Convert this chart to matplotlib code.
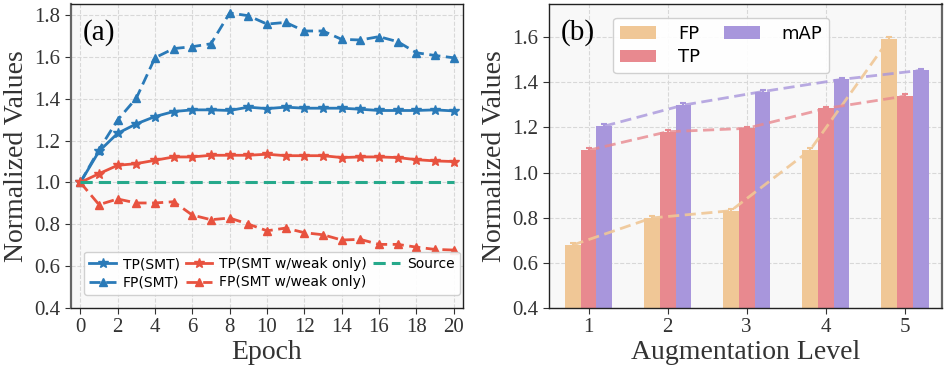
import matplotlib
matplotlib.use("Agg")
import matplotlib.pyplot as plt
import numpy as np

epochs = list(range(21))
tp_smt = [1.0, 1.149, 1.235, 1.28, 1.315, 1.339, 1.347, 1.347, 1.344, 1.36, 1.353,
          1.36, 1.355, 1.355, 1.355, 1.35, 1.344, 1.344, 1.344, 1.347, 1.342]
fp_smt = [1.0, 1.157, 1.299, 1.403, 1.596, 1.64, 1.649, 1.663, 1.81, 1.797, 1.757,
          1.765, 1.724, 1.724, 1.684, 1.681, 1.697, 1.673, 1.62, 1.607, 1.596]
tp_weak = [1.0, 1.042, 1.082, 1.09, 1.106, 1.122, 1.122, 1.13, 1.13, 1.13, 1.135,
           1.128, 1.128, 1.128, 1.119, 1.122, 1.122, 1.119, 1.109, 1.103, 1.1]
fp_weak = [1.0, 0.894, 0.921, 0.902, 0.902, 0.908, 0.844, 0.822, 0.83, 0.801, 0.769,
           0.782, 0.76, 0.75, 0.725, 0.728, 0.704, 0.704, 0.691, 0.68, 0.677]
source = [1.0] * 21

levels = [1, 2, 3, 4, 5]
fp_bar = [0.679, 0.799, 0.831, 1.099, 1.591]
tp_bar = [1.099, 1.181, 1.196, 1.284, 1.339]
map_bar = [1.206, 1.299, 1.359, 1.413, 1.453]

serif = "Liberation Serif"
sans = "DejaVu Sans"

fig = plt.figure(figsize=(9.47, 3.69), dpi=100)
W, H = 947, 369
ax1 = fig.add_axes([71 / W, 1 - 308 / H, (463 - 71) / W, (308 - 4) / H])
ax2 = fig.add_axes([549 / W, 1 - 308 / H, (942 - 549) / W, (308 - 4) / H])

blue = "#2a7ab8"
red = "#e8523f"
teal = "#26a98b"

for ax in (ax1, ax2):
    ax.set_facecolor("#f8f8f8")
    ax.grid(True, linestyle="--", color="#d8d8d8", linewidth=0.8)
    ax.set_axisbelow(True)
    for s in ax.spines.values():
        s.set_color("#222222")
        s.set_linewidth(1.0)
    ax.tick_params(labelsize=15, colors="#333333", length=4)

ax1.spines["left"].set_color("#666666")
ax1.spines["left"].set_linewidth(1.6)
ax2.spines["right"].set_color("#666666")
ax2.spines["right"].set_linewidth(1.6)

ms = 7.5
ax1.plot(epochs, tp_smt, "-", marker="*", color=blue, lw=2, ms=ms, label="TP(SMT)")
ax1.plot(epochs, fp_smt, "--", marker="^", color=blue, lw=2, ms=6, label="FP(SMT)", dashes=(4, 2))
ax1.plot(epochs, tp_weak, "-", marker="*", color=red, lw=2, ms=ms, label="TP(SMT w/weak only)")
ax1.plot(epochs, fp_weak, "--", marker="^", color=red, lw=2, ms=6, label="FP(SMT w/weak only)", dashes=(4, 2))
ax1.plot(epochs, source, "--", color=teal, lw=2.2, label="Source", dashes=(4, 2))

ax1.set_xlim(-0.5, 20.5)
ax1.set_ylim(0.4, 1.853)
ax1.set_xticks(range(0, 21, 2))
ax1.set_yticks(np.arange(0.4, 1.81, 0.2))
ax1.set_yticklabels([f"{v:.1f}" for v in np.arange(0.4, 1.81, 0.2)])
ax1.set_xlabel("Epoch", fontsize=20, fontfamily=serif, color="#333333", labelpad=2)
ax1.set_ylabel("Normalized Values", fontsize=20, fontfamily=serif, color="#333333", labelpad=4)
ax1.text(0.03, 0.95, "(a)", transform=ax1.transAxes, fontsize=21, fontfamily=serif,
         va="top", ha="left")
ax1.legend(ncol=3, loc="lower left", bbox_to_anchor=(0.015, 0.02),
           prop={"family": sans, "size": 10}, framealpha=0.9, edgecolor="#cccccc",
           columnspacing=0.45, handlelength=1.9, handletextpad=0.5, borderpad=0.4,
           labelspacing=0.3)
for lbl in ax1.get_xticklabels() + ax1.get_yticklabels():
    lbl.set_fontfamily(serif)

c_fp = "#f0c796"
c_tp = "#e8898f"
c_map = "#a896dc"
bw = 0.2
x = np.array(levels, dtype=float)
err = [0.008] * 5
ekw = {"elinewidth": 1.5, "capthick": 1.5}
ax2.bar(x - bw, fp_bar, bw, color=c_fp, label="FP", yerr=err, ecolor=c_fp, capsize=2, error_kw=ekw)
ax2.bar(x, tp_bar, bw, color=c_tp, label="TP", yerr=err, ecolor=c_tp, capsize=2, error_kw=ekw)
ax2.bar(x + bw, map_bar, bw, color=c_map, label="mAP", yerr=err, ecolor=c_map, capsize=2, error_kw=ekw)
ax2.plot(x - bw, fp_bar, "--", color=c_fp, lw=2, alpha=0.9, dashes=(4, 2))
ax2.plot(x, tp_bar, "--", color=c_tp, lw=2, alpha=0.8, dashes=(4, 2))
ax2.plot(x + bw, map_bar, "--", color=c_map, lw=2, alpha=0.8, dashes=(4, 2))

ax2.set_xlim(0.5, 5.47)
ax2.set_ylim(0.4, 1.747)
ax2.set_xticks(levels)
ax2.set_yticks(np.arange(0.4, 1.61, 0.2))
ax2.set_yticklabels([f"{v:.1f}" for v in np.arange(0.4, 1.61, 0.2)])
ax2.set_xlabel("Augmentation Level", fontsize=20, fontfamily=serif, color="#333333", labelpad=2)
ax2.set_ylabel("Normalized Values", fontsize=20, fontfamily=serif, color="#333333", labelpad=4)
ax2.text(0.03, 0.95, "(b)", transform=ax2.transAxes, fontsize=21, fontfamily=serif,
         va="top", ha="left")
ax2.legend(ncol=2, loc="upper left", bbox_to_anchor=(0.14, 0.985),
           prop={"family": sans, "size": 13}, framealpha=0.9, edgecolor="#cccccc",
           columnspacing=1.3, handlelength=2.0, handletextpad=1.2, labelspacing=0.3)
for lbl in ax2.get_xticklabels() + ax2.get_yticklabels():
    lbl.set_fontfamily(serif)

fig.savefig("out.png", dpi=100)
